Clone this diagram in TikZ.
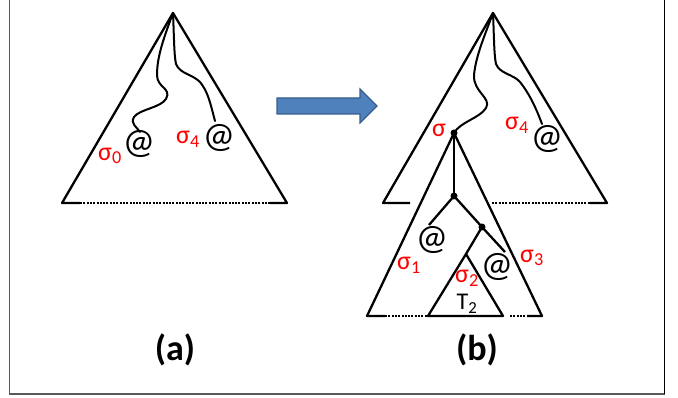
\documentclass[tikz,border=0pt]{standalone}
\usepackage{fontspec}
\setmainfont{Carlito}
\begin{document}
\begin{tikzpicture}[x=1pt,y=-1pt,
  edge/.style={line width=2.3pt,line join=round},
  wig/.style={line width=2pt,line cap=round},
  dotbase/.style={line width=2.3pt,dash pattern=on 2pt off 1.3pt},
  sig/.style={text=red,font=\fontsize{26}{26}\selectfont,inner sep=0pt},
  atsign/.style={font=\fontsize{36}{36}\selectfont,inner sep=0pt},
  lab/.style={font=\fontsize{36}{36}\selectfont\bfseries,inner sep=0pt},
  dot/.style={circle,fill=black,inner sep=0pt,minimum size=7pt}]
\useasboundingbox (0,0) rectangle (678,398);
% frame
\coordinate (f1) at (9.5,0);
\coordinate (f2) at (9.5,394);
\coordinate (f3) at (664.5,394);
\coordinate (f4) at (664.5,0);
\draw[line width=1.5pt,color=black!65] (f1) -- (f2) -- (f3);
\draw[line width=1.5pt] (f4) -- (f3);
% big arrow
\draw[fill={rgb,255:red,79;green,129;blue,189},draw={rgb,255:red,56;green,93;blue,138},line width=1.2pt]
  (277,98) -- (360,98) -- (360,89) -- (377,106) -- (360,123) -- (360,114) -- (277,114) -- cycle;
% ---------- (a) ----------
\coordinate (aA) at (173,13);
\coordinate (aL) at (62,203);
\coordinate (aR) at (287,203);
\coordinate (aL2) at (80,203);
\coordinate (aR2) at (270,203);
\draw[edge] (aL2) -- (aL) -- (aA) -- (aR) -- (aR2);
\draw[dotbase] (aL2) -- (aR2);
\coordinate (ae1) at (140,132);
\coordinate (ae2) at (215,121);
\draw[wig] (aA) .. controls (165,35) and (157,55) .. (157,75)
  .. controls (157,88) and (172,88) .. (166,99)
  .. controls (160,108) and (140,109) .. (134,117)
  .. controls (130,124) and (137,127) .. (ae1);
\draw[wig] (aA) .. controls (174,35) and (174,55) .. (176,64)
  .. controls (180,74) and (192,74) .. (200,82)
  .. controls (208,92) and (210,102) .. (ae2);
\node[atsign] (a0) at (139,144) {@};
\node[sig] (s0) at (110,156) {σ\textsubscript{0}};
\node[atsign] (a4) at (219,138) {@};
\node[sig] (s4) at (188,139) {σ\textsubscript{4}};
\node[lab] (la) at (175,350) {(a)};
% ---------- (b) ----------
\coordinate (bA) at (493,13);
\coordinate (bL) at (383,203);
\coordinate (bR) at (607,203);
\coordinate (bL2) at (410,203);
\coordinate (bR2) at (590,203);
\coordinate (bM) at (492,203);
\draw[edge] (bL2) -- (bL) -- (bA) -- (bR) -- (bR2);
\draw[dotbase] (bM) -- (bR2);
% sigma subtree triangle
\node[dot] (sg) at (454,133) {};
\coordinate (cL) at (367,316);
\coordinate (cR) at (542,316);
\coordinate (cL2) at (385,316);
\coordinate (cR2) at (527,316);
\draw[edge] (cL2) -- (cL) -- (sg.center) -- (cR) -- (cR2);
\coordinate (cD1) at (428,316);
\coordinate (cD2) at (510,316);
\draw[dotbase] (cL2) -- (cD1);
\draw[dotbase] (cD2) -- (cR2);
% T2 triangle
\coordinate (tA) at (466,254);
\coordinate (tL) at (428,316);
\coordinate (tR) at (503,316);
\draw[edge] (tA) -- (tL) -- (tR) -- cycle;
% inner tree
\node[dot] (n1) at (454,196) {};
\node[dot] (n2) at (482,227) {};
\coordinate (e1) at (429,225);
\coordinate (e3) at (505,252);
\draw[edge] (sg.center) -- (n1.center);
\draw[edge] (n1.center) -- (e1);
\draw[edge] (n1.center) -- (n2.center);
\draw[edge] (n2.center) -- (tA);
\draw[edge] (n2.center) -- (e3);
% wiggles
\coordinate (be2) at (542,124);
\draw[wig] (bA) .. controls (485,35) and (476,55) .. (474,75)
  .. controls (473,92) and (492,98) .. (486,108)
  .. controls (480,118) and (460,122) .. (sg.center);
\draw[wig] (bA) .. controls (494,35) and (494,55) .. (496,64)
  .. controls (500,74) and (513,74) .. (520,82)
  .. controls (528,92) and (535,105) .. (be2);
\node[atsign] (b4) at (547,139) {@};
\node[sig] (bs4) at (517,125) {σ\textsubscript{4}};
\node[sig] (bs) at (439,130) {σ};
\node[atsign] (b1) at (432,240) {@};
\node[sig] (s1) at (409,265) {σ\textsubscript{1}};
\node[atsign] (b2) at (497,267) {@};
\node[sig] (s2) at (467,278) {σ\textsubscript{2}};
\node[sig] (s3) at (532,258) {σ\textsubscript{3}};
\node[inner sep=0pt,font=\fontsize{24}{24}\selectfont] (t2) at (467,304) {T\textsubscript{2}};
\node[lab] (lb) at (477,350) {(b)};
\end{tikzpicture}
\end{document}
